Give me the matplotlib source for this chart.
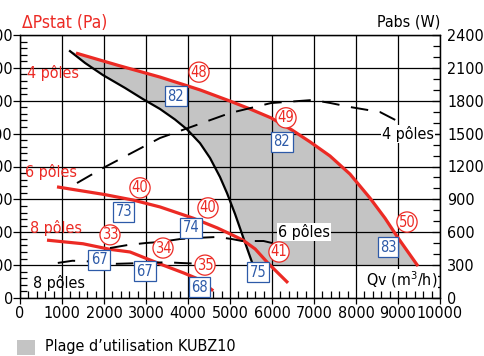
import matplotlib
matplotlib.use("Agg")
import matplotlib.pyplot as plt
from matplotlib import font_manager
from matplotlib.ticker import MultipleLocator

# pick a narrow font if there is one
names = {f.name for f in font_manager.fontManager.ttflist}
if 'Liberation Sans Narrow' in names:
    plt.rcParams['font.family'] = ['Liberation Sans Narrow', 'DejaVu Sans']
else:
    plt.rcParams['font.family'] = ['DejaVu Sans']
    plt.rcParams['font.stretch'] = 'condensed'

RED = '#ec2a24'
BLUE = '#2d5aa8'
GREY = '#c4c4c4'

# pressure curves (Qv m3/h, Pa)
qv_4p = [1333, 2381, 3333, 4286, 5000, 5476, 5976, 6476, 6905, 7381, 7857, 8333, 8690, 9000, 9476]
ps_4p = [745, 706, 672, 633, 599, 575, 548, 511, 475, 432, 377, 304, 243, 183, 97]
qv_6p = [881, 2000, 2690, 3333, 4119, 4700, 5000, 5310, 5600, 5905, 6381]
ps_6p = [338, 315, 298, 277, 243, 213, 195, 176, 149, 106, 46]
qv_8p = [643, 1500, 2143, 2619, 3405, 3900, 4200, 4600]
ps_8p = [176, 165, 148, 140, 100, 76, 60, 22]

# limit curve (black)
qv_lim = [1190, 1548, 1976, 2500, 2929, 3333, 3690, 3976, 4286, 4524, 4762, 4929, 5119, 5310, 5548]
ps_lim = [751, 715, 678, 639, 605, 575, 543, 513, 471, 426, 368, 319, 256, 186, 100]

# power curves (Qv m3/h, W)
qv_w4 = [1357, 1976, 3333, 4286, 5000, 5976, 6976, 7381, 7857, 8571, 9167]
w_4p = [1049, 1186, 1460, 1590, 1688, 1779, 1807, 1780, 1743, 1697, 1579]
qv_w6 = [2143, 2571, 3000, 3333, 3810, 4300, 4700, 5048, 5286, 5800, 6000]
w_6p = [456, 484, 502, 511, 538, 550, 557, 538, 520, 520, 502]
qv_w8 = [900, 1250, 1900, 2300, 3000, 3500, 3800, 4300]
w_8p = [320, 340, 330, 312, 320, 326, 320, 312]

# efficiency labels: (text, Qv, Pa)
circles = [('48', 4262, 687), ('49', 6333, 548), ('50', 9214, 231),
           ('40', 2857, 335), ('40', 4476, 274), ('41', 6167, 140),
           ('33', 2143, 192), ('34', 3405, 152), ('35', 4405, 100)]
boxes = [('82', 3714, 614), ('82', 6238, 475), ('83', 8762, 155),
         ('73', 2476, 262), ('74', 4071, 213), ('75', 5667, 79),
         ('67', 1881, 116), ('67', 2976, 82), ('68', 4262, 33)]

fig = plt.figure(figsize=(4.84, 3.56), dpi=100)
ax = fig.add_axes([20/484, 58/356, 420/484, 263/356])
ax2 = ax.twinx()

ax.set_xlim(0, 10000)
ax.set_ylim(0, 800)
ax2.set_ylim(0, 2400)
ax.xaxis.set_major_locator(MultipleLocator(1000))
ax.xaxis.set_minor_locator(MultipleLocator(200))
ax.yaxis.set_major_locator(MultipleLocator(100))
ax.yaxis.set_minor_locator(MultipleLocator(20))
ax2.yaxis.set_major_locator(MultipleLocator(300))
ax2.yaxis.set_minor_locator(MultipleLocator(100))
ax.grid(True, which='major', color='black', lw=0.9)

fs = 11.5
ax.tick_params(axis='x', which='major', direction='out', length=4, width=0.9, pad=2, labelsize=fs)
ax.tick_params(axis='x', which='minor', direction='in', length=5, width=0.9)
ax.tick_params(axis='y', which='major', direction='out', length=5, width=0.9, pad=0, labelsize=fs)
ax.tick_params(axis='y', which='minor', direction='in', length=5, width=0.9)
ax2.tick_params(axis='y', which='major', direction='in', length=6, width=0.9, pad=5, labelsize=fs)
ax2.tick_params(axis='y', which='minor', direction='in', length=5, width=0.9)
for a in (ax, ax2):
    for s in a.spines.values():
        s.set_linewidth(0.9)

# usable range (grey)
poly_x = qv_lim + [qv_4p[-1]] + qv_4p[::-1]
poly_y = ps_lim + [ps_lim[-1]] + ps_4p[::-1]
ax.fill(poly_x, poly_y, color=GREY, lw=0, zorder=1)
ax.plot(qv_lim, ps_lim, color='black', lw=1.6, zorder=3)

for q, p in [(qv_4p, ps_4p), (qv_6p, ps_6p), (qv_8p, ps_8p)]:
    ax.plot(q, p, color=RED, lw=2.3, zorder=3, solid_capstyle='butt')

for q, w in [(qv_w4, w_4p), (qv_w6, w_6p), (qv_w8, w_8p)]:
    ax2.plot(q, w, color='black', lw=1.4, dashes=(9, 6), zorder=2)

for t, q, p in circles:
    ax2.text(q, p, t, transform=ax.transData, color=RED, fontsize=10.5,
             ha='center', va='center', zorder=5,
             bbox=dict(boxstyle='circle,pad=0.12', fc='white', ec=RED, lw=0.9))
for t, q, p in boxes:
    ax2.text(q, p, t, transform=ax.transData, color=BLUE, fontsize=10.5,
             ha='center', va='center', zorder=5,
             bbox=dict(boxstyle='square,pad=0.15', fc='white', ec=BLUE, lw=0.9))

# curve labels
def px(x, y):
    return x / 484, 1 - y / 356

ax2.text(*px(27, 73), '4 pôles', transform=fig.transFigure, color=RED, fontsize=fs,
         ha='left', va='center', zorder=5)
ax2.text(*px(25, 172), '6 pôles', transform=fig.transFigure, color=RED, fontsize=fs,
         ha='left', va='center', zorder=5)
ax2.text(*px(30, 228), '8 pôles', transform=fig.transFigure, color=RED, fontsize=fs,
         ha='left', va='center', zorder=5)
ax2.text(*px(33, 283), '8 pôles', transform=fig.transFigure, color='black', fontsize=fs,
         ha='left', va='center', zorder=5)
ax2.text(*px(278, 232), '6 pôles', transform=fig.transFigure, color='black', fontsize=fs,
         ha='left', va='center', zorder=5,
         bbox=dict(boxstyle='square,pad=0.05', fc='white', ec='none'))
ax2.text(*px(382, 134), '4 pôles', transform=fig.transFigure, color='black', fontsize=fs,
         ha='left', va='center', zorder=5,
         bbox=dict(boxstyle='square,pad=0.05', fc='white', ec='none'))
ax2.text(*px(437, 280), 'Qv (m$^3$/h)', transform=fig.transFigure, color='black', fontsize=fs,
         ha='right', va='center', zorder=5,
         bbox=dict(boxstyle='square,pad=0.05', fc='white', ec='none'))

fig.text(*px(22, 23), 'ΔPstat (Pa)', color=RED, fontsize=12.5, ha='left', va='center')
fig.text(*px(440, 22), 'Pabs (W)', color='black', fontsize=fs, ha='right', va='center')

# legend
fig.patches.append(plt.Rectangle(px(17, 355), 18/484, 15/356, transform=fig.transFigure,
                                 fc=GREY, ec='none'))
fig.text(*px(45, 347), 'Plage d’utilisation KUBZ10', color='black', fontsize=fs,
         ha='left', va='center')

fig.savefig('out.png', dpi=100)
